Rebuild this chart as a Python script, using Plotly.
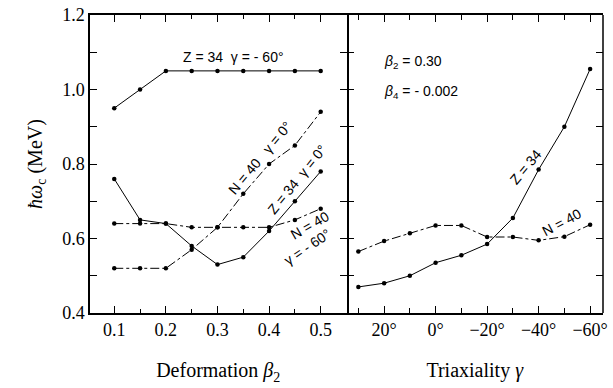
import plotly.graph_objects as go

# ---- data ----
beta2 = [0.10, 0.15, 0.20, 0.25, 0.30, 0.35, 0.40, 0.45, 0.50]
z34_gm60 = [0.95, 1.00, 1.05, 1.05, 1.05, 1.05, 1.05, 1.05, 1.05]
z34_g0 = [0.76, 0.65, 0.64, 0.58, 0.53, 0.55, 0.62, 0.70, 0.78]
n40_g0 = [0.52, 0.52, 0.52, 0.57, 0.63, 0.72, 0.80, 0.85, 0.94]
n40_gm60 = [0.64, 0.64, 0.64, 0.63, 0.63, 0.63, 0.63, 0.65, 0.68]

gamma = [30, 20, 10, 0, -10, -20, -30, -40, -50, -60]
z34_tri = [0.47, 0.48, 0.50, 0.535, 0.555, 0.585, 0.655, 0.785, 0.90, 1.055]
n40_tri = [0.565, 0.593, 0.614, 0.635, 0.635, 0.604, 0.604, 0.595, 0.605, 0.637]

y_ticks = [0.4, 0.6, 0.8, 1.0, 1.2]
y_ticklabels = ["0.4", "0.6", "0.8", "1.0", "1.2"]
beta_ticks = [0.1, 0.2, 0.3, 0.4, 0.5]
gamma_ticks = [20, 0, -20, -40, -60]
gamma_ticklabels = ["20°", "0°", "−20°", "−40°", "−60°"]

SERIF = "Liberation Serif"
SANS = "Liberation Sans"

fig = go.Figure()

def add(x, y, dash, xa, ya):
    fig.add_trace(go.Scatter(
        x=x, y=y, mode="lines+markers", xaxis=xa, yaxis=ya,
        line=dict(color="black", width=1, dash=dash),
        marker=dict(color="black", size=4.5), showlegend=False))

add(beta2, z34_gm60, "solid", "x", "y")
add(beta2, z34_g0, "solid", "x", "y")
add(beta2, n40_g0, "dashdot", "x", "y")
add(beta2, n40_gm60, "dashdot", "x", "y")
add(gamma, z34_tri, "solid", "x2", "y2")
add(gamma, n40_tri, "dashdot", "x2", "y2")

axis_common = dict(
    linecolor="black", linewidth=1.5, mirror="ticks",
    ticks="inside", ticklen=7, tickwidth=1.2, tickcolor="black",
    showgrid=False, zeroline=False,
    tickfont=dict(family=SERIF, size=18, color="black"),
)

W, H = 613, 388
ML, MR, MT, MB = 90, 5, 10, 75

fig.update_layout(
    width=W, height=H,
    margin=dict(l=ML, r=MR, t=MT, b=MB),
    paper_bgcolor="white", plot_bgcolor="white",
    xaxis=dict(domain=[0, 0.5], range=[0.053, 0.55], showline=True,
               tickmode="array", tickvals=beta_ticks,
               ticktext=[f"{v:.1f}" for v in beta_ticks],
               minor=dict(dtick=0.05, tick0=0.05, ticks="inside", ticklen=4,
                          tickcolor="black", tickwidth=1.2),
               title=dict(text="Deformation <i>β</i><sub>2</sub>",
                          font=dict(family=SERIF, size=20, color="black"),
                          standoff=24),
               **axis_common),
    yaxis=dict(domain=[0, 1], range=[0.4, 1.2], showline=True,
               tickmode="array", tickvals=y_ticks, ticktext=y_ticklabels,
               minor=dict(dtick=0.1, tick0=0.4, ticks="inside", ticklen=7,
                          tickcolor="black", tickwidth=1.2),
               title=dict(text="<i>ħω</i><sub>c</sub> (MeV)",
                          font=dict(family=SERIF, size=20, color="black"),
                          standoff=14),
               **axis_common),
    xaxis2=dict(domain=[0.5, 1], anchor="y2", range=[34.6, -65], showline=True,
                tickmode="array", tickvals=gamma_ticks, ticktext=gamma_ticklabels,
                minor=dict(dtick=10, tick0=0, ticks="inside", ticklen=5,
                           tickcolor="black", tickwidth=1.2),
                title=dict(text="Triaxiality <i>γ</i>",
                           font=dict(family=SERIF, size=20, color="black"),
                           standoff=24),
                **axis_common),
    yaxis2=dict(domain=[0, 1], anchor="x2", range=[0.4, 1.2], dtick=0.1,
                tick0=0.4, showline=False, showticklabels=False, **axis_common),
)

# right border of the right panel (its left border is the shared middle line)
fig.add_shape(type="line", xref="paper", yref="paper",
              x0=1, x1=1, y0=0, y1=1, line=dict(color="black", width=1.5))

ann_font = dict(family=SANS, size=14, color="black")

def ann(text, x, y, xref, yref, angle=0, xanchor="center"):
    fig.add_annotation(text=text, x=x, y=y, xref=xref, yref=yref,
                       showarrow=False, textangle=angle, xanchor=xanchor,
                       font=ann_font)

ann("Z = 34  γ = - 60°", 0.332, 1.086, "x", "y")
ann("N = 40   γ = 0°", 0.382, 0.817, "x", "y", -50)
ann("Z = 34  γ = 0°", 0.455, 0.759, "x", "y", -51)
ann("N = 40", 0.480, 0.635, "x", "y", -30)
ann("γ = - 60°", 0.474, 0.577, "x", "y", -34)
ann("<i>β</i><sub>2</sub> = 0.30", 20.8, 1.073, "x2", "y2", 0, "left")
ann("<i>β</i><sub>4</sub> = - 0.002", 20.8, 0.994, "x2", "y2", 0, "left")
ann("Z = 34", -35, 0.791, "x2", "y2", -50)
ann("N = 40", -49.2, 0.643, "x2", "y2", -28)

fig.write_html(
    "out.html",
    config={"displayModeBar": False},
    post_script="document.body.style.margin='0';"
                "document.body.style.overflow='hidden';",
)
